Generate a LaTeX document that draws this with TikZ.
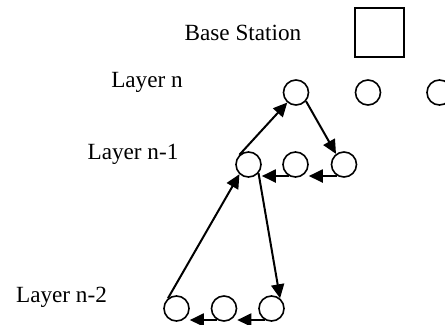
\documentclass[tikz,border=0pt]{standalone}
\usepackage{fontspec}
\setmainfont{Liberation Serif}
\usetikzlibrary{arrows.meta}
\begin{document}
\begin{tikzpicture}[x=0.5pt,y=-0.5pt,
  sensor/.style={circle,draw,line width=0.8pt,minimum size=12.5pt,inner sep=0pt},
  lbl/.style={font=\fontsize{11.6pt}{13pt}\selectfont,inner sep=0pt},
  arr/.style={line width=1pt,-{Triangle[length=7pt,width=6.5pt]}}]
\useasboundingbox (0,0) rectangle (445,325);
% base station
\node[draw,line width=0.8pt,minimum size=24.5pt,inner sep=0pt] (bs) at (379.5,32.5) {};
\node[lbl] (tbs) at (243,33) {Base Station};
% labels
\node[lbl] (tn) at (147,82) {Layer n};
\node[lbl] (tn1) at (133,154) {Layer n-1};
\node[lbl] (tn2) at (61.5,297) {Layer n-2};
% layer n
\node[sensor] (a1) at (296,92.5) {};
\node[sensor] (a2) at (368,92.5) {};
\node[sensor] (a3) at (439.5,92.5) {};
% layer n-1
\node[sensor] (b1) at (248.5,164.5) {};
\node[sensor] (b2) at (295.5,164.5) {};
\node[sensor] (b3) at (344,164.5) {};
% layer n-2
\node[sensor] (c1) at (176.5,308.5) {};
\node[sensor] (c2) at (224,308.5) {};
\node[sensor] (c3) at (271.5,308.5) {};
% arrows
\draw[arr] (c1.130) -- (b1.227);
\draw[arr] (b1.319) -- (c3.50);
\draw[arr] (b1.133) -- (a1.229);
\draw[arr] (a1.319) -- (b3.127);
\draw[arr] (b2.240) -- (b2.240 -| b1.east);
\draw[arr] (b3.240) -- (b3.240 -| b2.east);
\draw[arr] (c2.240) -- (c2.240 -| c1.east);
\draw[arr] (c3.240) -- (c3.240 -| c2.east);
\end{tikzpicture}
\end{document}
